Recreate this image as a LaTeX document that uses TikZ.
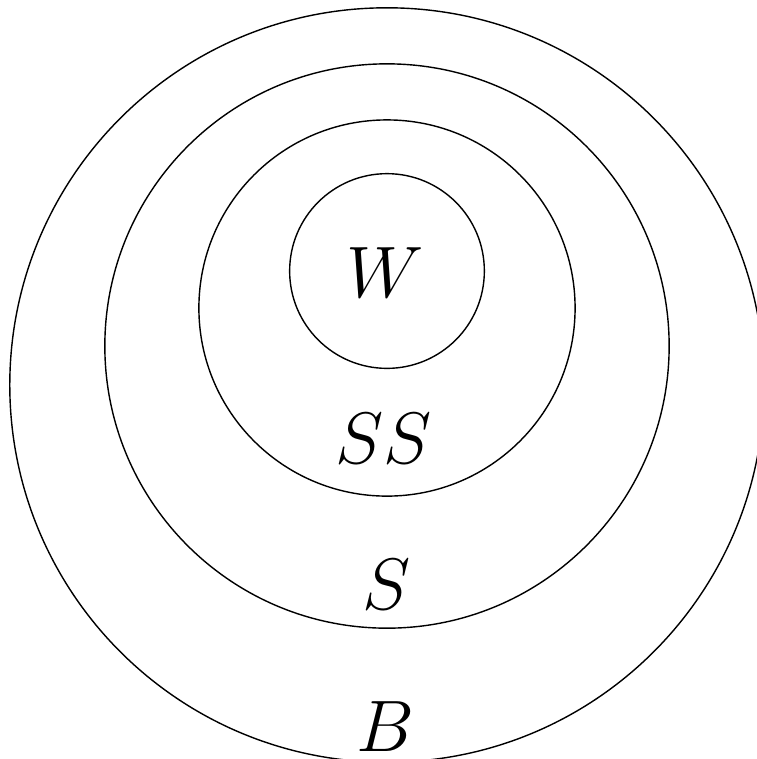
\documentclass[tikz,border=0pt]{standalone}
\begin{document}
\begin{tikzpicture}[x=0.01cm,y=-0.01cm,
  ring/.style={draw=black,line width=0.4pt},
  lab/.style={inner sep=0pt,anchor=center,font=\fontsize{20.7}{25}\selectfont}]
\useasboundingbox (0,0) rectangle (757,759);
\begin{scope}
\clip (0,0) rectangle (757,759);
\draw[ring] (387,385) circle [radius=3.77cm];
\draw[ring] (387,346) circle [radius=2.82cm];
\draw[ring] (387,308) circle [radius=1.88cm];
\draw[ring] (387,271) circle [radius=0.973cm];
\end{scope}
\node[lab] (w) at (385,273) {$W$};
\node[lab] (ss) at (384,439) {$SS$};
\node[lab] (s) at (387,585) {$S$};
\node[lab] (b) at (385,727) {$B$};
\end{tikzpicture}
\end{document}
